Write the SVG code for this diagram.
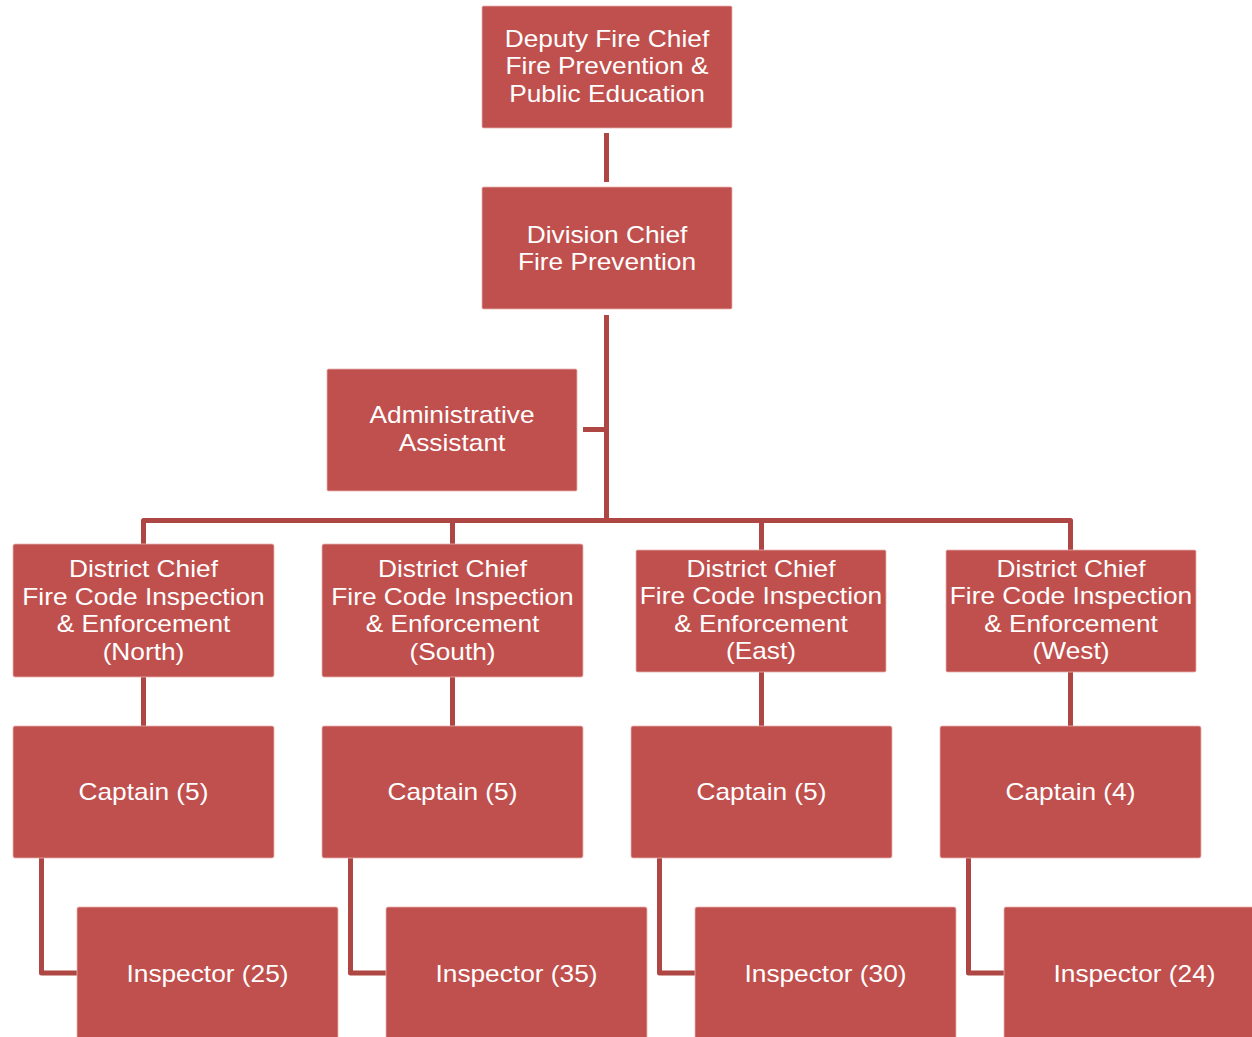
<svg xmlns="http://www.w3.org/2000/svg" width="1252" height="1037" viewBox="0 0 1252 1037">
  <style>
    .box { fill: #C0504D; stroke: #E7B3B1; stroke-width: 0.8; }
    .lbl { font-family: "Liberation Sans", Arial, sans-serif; font-size: 24px; fill: #FFFFFF; text-anchor: middle; }
    .wire { fill: none; stroke: #AE4643; stroke-width: 5; stroke-linejoin: round; }
  </style>
  <rect width="1252" height="1037" fill="#FFFFFF"/>

  <!-- reporting lines -->
  <g id="connectors">
    <path class="wire" d="M606.5 133 V182"/>
    <path class="wire" d="M606.5 315 V520.5"/>
    <path class="wire" d="M583 429.5 H606.5"/>
    <path class="wire" d="M143.5 544 V520.5 H1070.5 V550"/>
    <path class="wire" d="M452.5 520.5 V544"/>
    <path class="wire" d="M761.5 520.5 V550"/>
    <path class="wire" d="M143.5 677 V726"/>
    <path class="wire" d="M452.5 677 V726"/>
    <path class="wire" d="M761.5 672 V726"/>
    <path class="wire" d="M1070.5 672 V726"/>
    <path class="wire" d="M41.5 858 V973 H77"/>
    <path class="wire" d="M350.5 858 V973 H386"/>
    <path class="wire" d="M659.5 858 V973 H695"/>
    <path class="wire" d="M968.5 858 V973 H1004"/>
  </g>

  <g id="deputy-chief">
    <rect class="box" x="482" y="6" width="250" height="122" rx="1.5"/>
    <g transform="translate(607 0) scale(1.095 1)">
      <text class="lbl" x="0" y="47">Deputy Fire Chief</text>
      <text class="lbl" x="0" y="74.5">Fire Prevention &amp;</text>
      <text class="lbl" x="0" y="102">Public Education</text>
    </g>
  </g>

  <g id="division-chief">
    <rect class="box" x="482" y="187" width="250" height="122" rx="1.5"/>
    <g transform="translate(607 0) scale(1.095 1)">
      <text class="lbl" x="0" y="243">Division Chief</text>
      <text class="lbl" x="0" y="270.5">Fire Prevention</text>
    </g>
  </g>

  <g id="admin-assistant">
    <rect class="box" x="327" y="369" width="250" height="122" rx="1.5"/>
    <g transform="translate(452 0) scale(1.095 1)">
      <text class="lbl" x="0" y="423.5">Administrative</text>
      <text class="lbl" x="0" y="451">Assistant</text>
    </g>
  </g>

  <g id="district-north">
    <rect class="box" x="13" y="544" width="261" height="133" rx="2"/>
    <g transform="translate(143.5 0) scale(1.095 1)">
      <text class="lbl" x="0" y="577.5">District Chief</text>
      <text class="lbl" x="0" y="605">Fire Code Inspection</text>
      <text class="lbl" x="0" y="632.5">&amp; Enforcement</text>
      <text class="lbl" x="0" y="660">(North)</text>
    </g>
  </g>

  <g id="district-south">
    <rect class="box" x="322" y="544" width="261" height="133" rx="2"/>
    <g transform="translate(452.5 0) scale(1.095 1)">
      <text class="lbl" x="0" y="577.5">District Chief</text>
      <text class="lbl" x="0" y="605">Fire Code Inspection</text>
      <text class="lbl" x="0" y="632.5">&amp; Enforcement</text>
      <text class="lbl" x="0" y="660">(South)</text>
    </g>
  </g>

  <g id="district-east">
    <rect class="box" x="636" y="550" width="250" height="122" rx="1.5"/>
    <g transform="translate(761 0) scale(1.095 1)">
      <text class="lbl" x="0" y="577">District Chief</text>
      <text class="lbl" x="0" y="604.5">Fire Code Inspection</text>
      <text class="lbl" x="0" y="632">&amp; Enforcement</text>
      <text class="lbl" x="0" y="659">(East)</text>
    </g>
  </g>

  <g id="district-west">
    <rect class="box" x="946" y="550" width="250" height="122" rx="1.5"/>
    <g transform="translate(1071 0) scale(1.095 1)">
      <text class="lbl" x="0" y="577">District Chief</text>
      <text class="lbl" x="0" y="604.5">Fire Code Inspection</text>
      <text class="lbl" x="0" y="632">&amp; Enforcement</text>
      <text class="lbl" x="0" y="659">(West)</text>
    </g>
  </g>

  <g id="captain-north">
    <rect class="box" x="13" y="726" width="261" height="132" rx="2"/>
    <text class="lbl" transform="translate(143.5 800) scale(1.095 1)">Captain (5)</text>
  </g>
  <g id="captain-south">
    <rect class="box" x="322" y="726" width="261" height="132" rx="2"/>
    <text class="lbl" transform="translate(452.5 800) scale(1.095 1)">Captain (5)</text>
  </g>
  <g id="captain-east">
    <rect class="box" x="631" y="726" width="261" height="132" rx="2"/>
    <text class="lbl" transform="translate(761.5 800) scale(1.095 1)">Captain (5)</text>
  </g>
  <g id="captain-west">
    <rect class="box" x="940" y="726" width="261" height="132" rx="2"/>
    <text class="lbl" transform="translate(1070.5 800) scale(1.095 1)">Captain (4)</text>
  </g>

  <g id="inspector-north">
    <rect class="box" x="77" y="907" width="261" height="133" rx="2"/>
    <text class="lbl" transform="translate(207.5 981.5) scale(1.095 1)">Inspector (25)</text>
  </g>
  <g id="inspector-south">
    <rect class="box" x="386" y="907" width="261" height="133" rx="2"/>
    <text class="lbl" transform="translate(516.5 981.5) scale(1.095 1)">Inspector (35)</text>
  </g>
  <g id="inspector-east">
    <rect class="box" x="695" y="907" width="261" height="133" rx="2"/>
    <text class="lbl" transform="translate(825.5 981.5) scale(1.095 1)">Inspector (30)</text>
  </g>
  <g id="inspector-west">
    <rect class="box" x="1004" y="907" width="261" height="133" rx="2"/>
    <text class="lbl" transform="translate(1134.5 981.5) scale(1.095 1)">Inspector (24)</text>
  </g>
</svg>
